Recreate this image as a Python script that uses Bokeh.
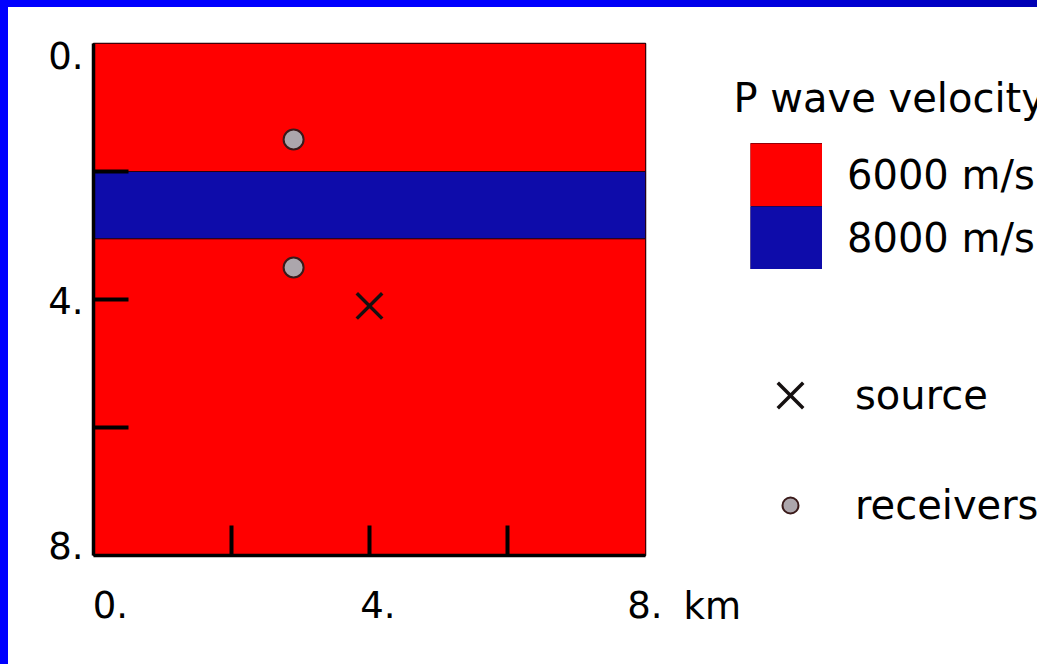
from bokeh.plotting import figure
from bokeh.models import (Range1d, LinearAxis, FixedTicker, Legend, LegendItem,
                          ColumnDataSource, Label, Div)
from bokeh.layouts import row, column
from bokeh.embed import file_html
from bokeh.resources import INLINE

# ---- data ----
layer_top = [0.0, 2.0, 3.05]          # km depth
layer_bottom = [2.0, 3.05, 8.0]
layer_velocity = [6000, 8000, 6000]   # m/s
velocity_values = [6000, 8000]
velocity_labels = ["6000 m/s", "8000 m/s"]
velocity_colors = ["#ff0000", "#0e0caa"]
model_x = [0.0, 8.0]                  # km, horizontal extent of the model

source_x = [4.0]
source_y = [4.1]
receiver_x = [2.9, 2.9]
receiver_y = [1.5, 3.5]

x_label_ticks = [0, 4, 8]
x_tick_labels = ["0.", "4.", "8."]
x_unit = "km"
y_label_ticks = [0, 4, 8]
y_tick_labels = ["0.", "4.", "8."]
minor_ticks = [2, 4, 6]

legend_title = "P wave velocity"
source_label = "source"
receiver_label = "receivers"

FONT = "DejaVu Sans"

# ---- sources ----
layer_sources = []
for v in velocity_values:
    idx = [i for i, lv in enumerate(layer_velocity) if lv == v]
    layer_sources.append(ColumnDataSource(dict(
        left=[model_x[0]] * len(idx), right=[model_x[1]] * len(idx),
        top=[layer_top[i] for i in idx], bottom=[layer_bottom[i] for i in idx])))
src_source = ColumnDataSource(dict(x=source_x, y=source_y))
rec_source = ColumnDataSource(dict(x=receiver_x, y=receiver_y))

SRC_STYLE = dict(marker="x", line_color="#151010", line_width=3.5)
REC_STYLE = dict(marker="circle", fill_color="#aca6ac", line_color="#3a1a1a", line_width=2)

# ---- main model figure ----
p = figure(width=654, height=657, output_backend="svg", toolbar_location=None,
           x_range=Range1d(0, 8), y_range=Range1d(8, 0),
           x_axis_location=None, y_axis_location=None,
           min_border_left=85, min_border_right=17, min_border_top=36, min_border_bottom=109,
           background_fill_color="white", border_fill_color="white")
p.frame_align = False
p.grid.visible = False
p.outline_line_color = "#200000"
p.outline_line_width = 1.5
p.extra_x_ranges = {"lab": Range1d(-0.254, 8.0)}
p.extra_y_ranges = {"lab": Range1d(8.163, -0.196)}

for s, c in zip(layer_sources, velocity_colors):
    p.quad(left="left", right="right", top="top", bottom="bottom", source=s,
           fill_color=c, line_color="#2a0010", line_width=1)
p.scatter("x", "y", source=src_source, size=36, **SRC_STYLE)
p.scatter("x", "y", source=rec_source, size=20, **REC_STYLE)


def tick_axis(**kw):
    return LinearAxis(ticker=FixedTicker(ticks=minor_ticks), major_tick_out=0,
                      major_tick_line_width=4, major_tick_line_color="black",
                      minor_tick_line_color=None, axis_line_width=3.5, axis_line_color="black",
                      major_label_text_font_size="0px", major_label_standoff=0, **kw)


p.add_layout(tick_axis(major_tick_in=35), "left")
p.add_layout(tick_axis(major_tick_in=30), "below")


def label_axis(ticks, labels, standoff, **rng_kw):
    return LinearAxis(ticker=FixedTicker(ticks=ticks),
                      major_label_overrides=dict(zip(ticks, labels)),
                      axis_line_color=None, major_tick_line_color=None, minor_tick_line_color=None,
                      major_tick_in=0, major_tick_out=0,
                      major_label_text_font=FONT, major_label_text_font_size="37px",
                      major_label_text_color="black", major_label_standoff=standoff, **rng_kw)


p.add_layout(label_axis(y_label_ticks, y_tick_labels, 10, y_range_name="lab"), "left")
p.add_layout(label_axis(x_label_ticks, x_tick_labels, 35, x_range_name="lab"), "below")

# ---- legend panel (its renderers are hidden; they only feed the legend swatches) ----
lw, lh = 1037 - 8 - 654, 657
lf = figure(width=lw, height=lh, output_backend="svg", toolbar_location=None,
            x_range=Range1d(0, 8), y_range=Range1d(8, 0),
            x_axis_location=None, y_axis_location=None, min_border=0,
            background_fill_color="white", border_fill_color="white", outline_line_color=None)
lf.frame_align = False
lf.grid.visible = False

l_edges = [lf.line(x=model_x, y=[layer_top[i], layer_top[i]], line_color="#2a0010",
                   line_width=65, line_cap="butt", visible=False) for i in range(2)]
l_layers = [lf.line(x=model_x, y=[layer_top[i], layer_top[i]], line_color=c,
                    line_width=63, line_cap="butt", visible=False)
            for i, c in enumerate(velocity_colors)]
l_src = lf.scatter("x", "y", source=src_source, size=36, visible=False, **SRC_STYLE)
l_rec = lf.scatter("x", "y", source=rec_source, size=20, visible=False, **REC_STYLE)

lf.add_layout(Label(x=21, y=58, x_units="screen", y_units="screen", text=x_unit,
                    text_font=FONT, text_font_size="37px", text_color="black",
                    text_baseline="alphabetic"))
lf.add_layout(Label(x=71, y=567, x_units="screen", y_units="screen", text=legend_title,
                    text_font=FONT, text_font_size="40px", text_color="black",
                    text_baseline="alphabetic"))

common = dict(padding=0, margin=0, border_line_color=None, background_fill_alpha=0,
              label_text_font=FONT, label_text_font_size="40px", label_text_color="black")
leg1 = Legend(items=[LegendItem(label=l, renderers=[e, r])
                     for l, e, r in zip(velocity_labels, l_edges, l_layers)],
              location=(88, 395), glyph_width=72, glyph_height=63, spacing=0,
              label_standoff=25, **common)
leg2 = Legend(items=[LegendItem(label=source_label, renderers=[l_src])],
              location=(83, 224), glyph_width=90, glyph_height=90, spacing=0,
              label_standoff=20, **common)
leg3 = Legend(items=[LegendItem(label=receiver_label, renderers=[l_rec])],
              location=(108, 136), glyph_width=40, glyph_height=40, spacing=0,
              label_standoff=45, **common)
for lg in (leg1, leg2, leg3):
    lf.add_layout(lg, "center")

top_bar = Div(text="", width=1037, height=7, margin=0,
              styles={"background": "linear-gradient(to right, #0000ff 55%, #0000b4)"})
left_bar = Div(text="", width=8, height=657, margin=0, styles={"background-color": "#0000ff"})

layout = column(top_bar, row(left_bar, p, lf, spacing=0), spacing=0)

open("out.html", "w").write(file_html(layout, INLINE))
